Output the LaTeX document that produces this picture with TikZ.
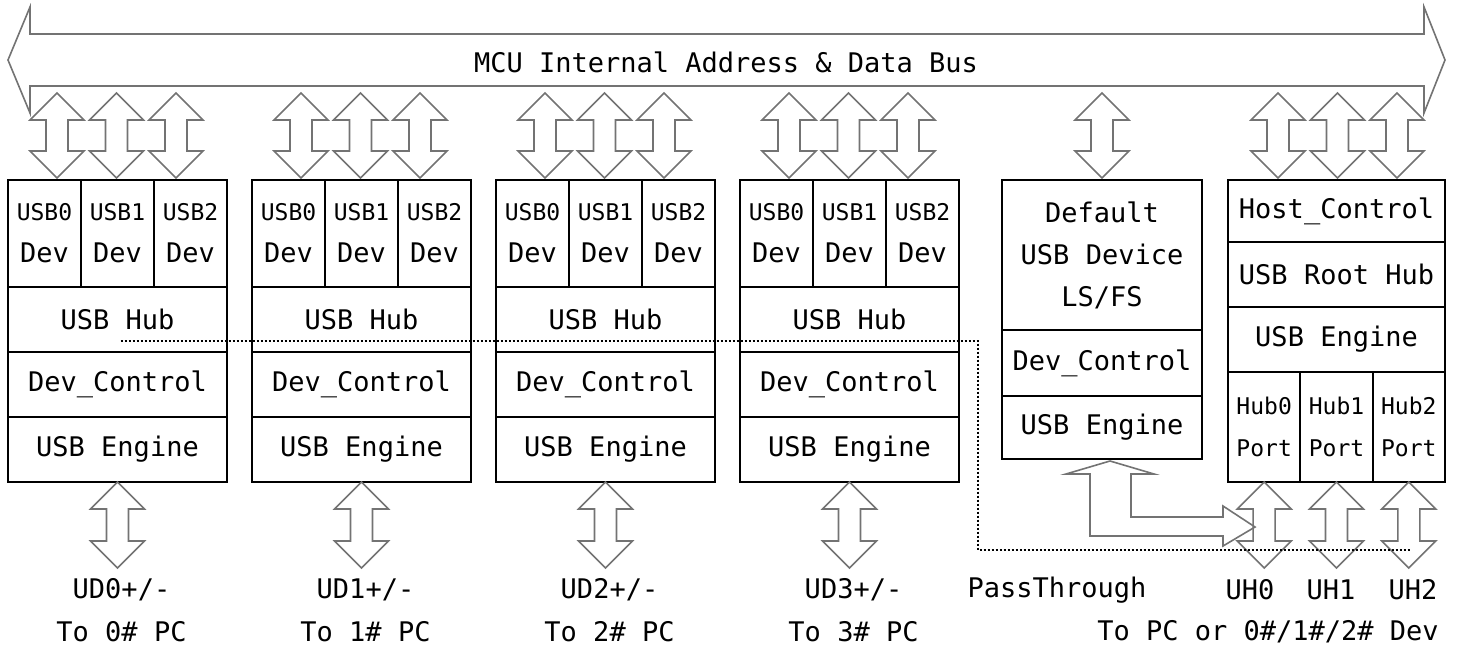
\documentclass[tikz,border=0pt]{standalone}
\usepackage{fontspec}
\setmonofont{DejaVu Sans Mono}
\usetikzlibrary{calc,positioning}
\tikzset{
    blk/.style={
        draw,line width=2pt,outer sep=0pt,inner sep=0pt,
        minimum width=219pt,minimum height=65pt,
        align=center,font=\ttfamily\fontsize{27}{42}\selectfont
    },
    devblk/.style={blk,minimum width=73pt,minimum height=107pt},
    portblk/.style={blk,minimum width=72.33pt,minimum height=110pt},
    lbl/.style={font=\ttfamily\fontsize{27}{42}\selectfont,inner sep=0pt},
    fat/.style={draw=black!55,line width=1.6pt,line join=miter},
    pics/updown/.style={code={
        \draw[fat,fill=white] (0,0) -- (27,27) -- (11,27) -- (11,#1-27) -- (27,#1-27)
            -- (0,#1) -- (-27,#1-27) -- (-11,#1-27) -- (-11,27) -- (-27,27) -- cycle;
    }}
}
\newcommand{\sm}[1]{{\fontsize{23}{42}\selectfont #1}}

\begin{document}
\begin{tikzpicture}[x=1pt,y=-1pt]
\useasboundingbox (0,0) rectangle (1458,653);

% internal bus
\draw[fat] (8,60) -- (30,7) -- (30,34) -- (1424,34) -- (1424,7) -- (1445,60)
    -- (1424,113) -- (1424,86) -- (30,86) -- (30,113) -- cycle;
\node[lbl] (bus) at (726,62) {MCU Internal Address \& Data Bus};

% four device blocks
\foreach \i/\x in {0/8,1/252,2/496,3/740}{
    \node[devblk,anchor=north west] (da\i) at (\x,180) {\sm{USB0}\\Dev};
    \node[devblk,right=0pt of da\i] (db\i) {\sm{USB1}\\Dev};
    \node[devblk,right=0pt of db\i] (dc\i) {\sm{USB2}\\Dev};
    \node[blk,below=0pt of db\i] (hub\i) {USB Hub};
    \node[blk,below=0pt of hub\i] (ctl\i) {Dev\_Control};
    \node[blk,below=0pt of ctl\i] (eng\i) {USB Engine};
    \foreach \j in {0,1,2}
        \pic at ($(da\i.north west)+(49+59.5*\j,-87)$) {updown=85};
    \pic at (eng\i.south) {updown=86};
    \node[lbl] (ud\i) at ($(eng\i.south)+(4,108)$) {UD\i+/-};
    \node[lbl] (pc\i) at ($(eng\i.south)+(4,150)$) {To \i\# PC};
}

% default device
\node[blk,minimum width=200pt,minimum height=150pt,anchor=north west] (dft) at (1002,180) {Default\\USB Device\\LS/FS};
\node[blk,minimum width=200pt,minimum height=66pt,below=0pt of dft] (dctl) {Dev\_Control};
\node[blk,minimum width=200pt,minimum height=63pt,below=0pt of dctl] (deng) {USB Engine};
\pic at ($(dft.north)+(0,-87)$) {updown=85};

% host side
\node[blk,minimum width=217pt,minimum height=62pt,anchor=north west] (hctl) at (1228,180) {Host\_Control};
\node[blk,minimum width=217pt,below=0pt of hctl] (root) {USB Root Hub};
\node[blk,minimum width=217pt,below=0pt of root] (heng) {USB Engine};
\node[portblk,anchor=north west] (hp0) at (heng.south west) {\sm{Hub0}\\\sm{Port}};
\node[portblk,right=0pt of hp0] (hp1) {\sm{Hub1}\\\sm{Port}};
\node[portblk,right=0pt of hp1] (hp2) {\sm{Hub2}\\\sm{Port}};
\foreach \j in {0,1,2}{
    \pic at ($(hctl.north west)+(50+59.5*\j,-87)$) {updown=85};
    \pic at (hp\j.south) {updown=86};
}
\foreach \j/\x in {0/1250,1/1331,2/1413}
    \node[lbl] (uh\j) at (\x,590) {UH\j};
\node[lbl] (dev) at (1268,632) {To PC or 0\#/1\#/2\# Dev};
\node[lbl] (pass) at (1057,590) {PassThrough};

% default device to UH0
\coordinate (ptip) at ($(deng.south)+(8,2)$);
\draw[fat] (ptip) -- ++(44,13) -- ++(-23,0) -- ++(0,43) -- ++(92,0) -- ++(0,-11)
    -- ++(32,21) -- ++(-32,19) -- ++(0,-10) -- ++(-133,0) -- ++(0,-62) -- ++(-24,0) -- cycle;

% pass-through path
\coordinate (pend) at (1410,550);
\draw[line width=2.5pt,dash pattern=on 2pt off 2pt] ($(hub0.south)+(3,-11)$) -| (978,550) -- (pend);
\end{tikzpicture}
\end{document}
